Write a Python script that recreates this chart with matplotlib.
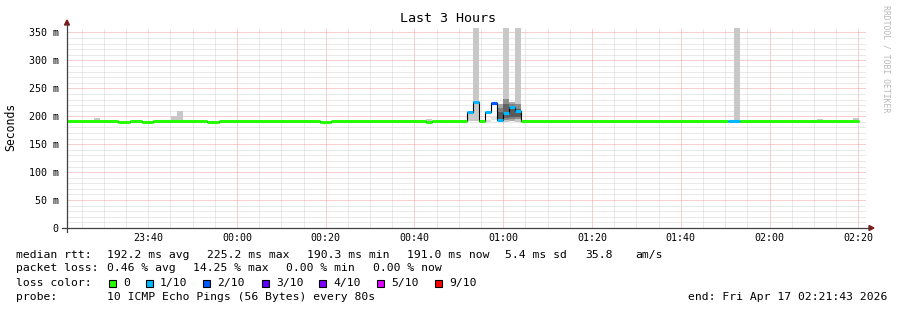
import matplotlib
matplotlib.use("Agg")
import matplotlib.pyplot as plt
from matplotlib.patches import Rectangle, Polygon
from matplotlib.lines import Line2D

# time axis in minutes relative to 00:00 (window 23:21:43 .. 02:21:43)
t_start = -38.28
t_end = 141.72

# median rtt runs (edges in minutes, value in ms, loss colour index)
med_edges = [-38.3, -26.8, -24.1, -21.4, -18.9, -6.8, -4.1, 18.7, 21.2, 42.6, 43.9,
             51.83, 53.18, 54.54, 55.89, 57.24, 58.59, 59.94, 61.30, 62.65, 64.0,
             110.65, 113.35, 140.17]
med_vals = [192, 190.5, 192, 190.5, 192, 190.5, 192, 190.5, 192, 190.5, 192,
            208, 226, 192, 208, 224, 193.5, 206, 216, 209, 192, 192, 192]
med_loss = [0, 0, 0, 0, 0, 0, 0, 0, 0, 0, 0,
            1, 1, 0, 1, 2, 1, 1, 1, 1, 0, 1, 0]

# smoke (ping spread) blocks: start, end, low, high, shade
smoke_t0 = [-32.2, -14.87, -13.52, 42.59, 51.83, 53.18, 55.89, 57.24,
            58.59, 58.59, 58.59, 59.94, 59.94, 59.94, 61.30, 61.30, 61.30,
            62.65, 62.65, 62.65, 112.0, 130.70, 138.82]
smoke_t1 = [-30.87, -13.52, -12.17, 43.94, 53.18, 54.54, 57.24, 58.59,
            59.94, 59.94, 59.94, 61.30, 61.30, 61.30, 62.65, 62.65, 62.65,
            64.0, 64.0, 64.0, 113.35, 132.06, 140.17]
smoke_lo = [192, 192, 192, 190, 192, 192, 190, 193,
            192, 194, 196, 190, 194, 197, 192, 195, 198,
            190, 195, 198, 190, 192, 192]
smoke_hi = [197, 201, 210, 195, 208, 400, 193, 200,
            222, 215, 207, 400, 231, 222, 226, 222, 214,
            400, 222, 213, 400, 195, 197]
smoke_shade = ['#c8c8c8', '#c8c8c8', '#c8c8c8', '#c8c8c8', '#c8c8c8', '#c8c8c8', '#dcdcdc', '#e4e4e4',
               '#a8a8a8', '#808080', '#5a5a5a', '#c8c8c8', '#8c8c8c', '#646464', '#a8a8a8', '#808080', '#5a5a5a',
               '#c8c8c8', '#8c8c8c', '#5a5a5a', '#c8c8c8', '#c8c8c8', '#c8c8c8']

loss_colors = ['#26ff00', '#00b8ff', '#0059ff', '#5e00ff', '#7e00ff', '#dd00ff', '#ff0000']
loss_labels = ['0', '1/10', '2/10', '3/10', '4/10', '5/10', '9/10']

x_ticks = [-20, 0, 20, 40, 60, 80, 100, 120, 140]
x_labels = ['23:40', '00:00', '00:20', '00:40', '01:00', '01:20', '01:40', '02:00', '02:20']
y_ticks = [0, 50, 100, 150, 200, 250, 300, 350]
y_labels = ['0', '50 m', '100 m', '150 m', '200 m', '250 m', '300 m', '350 m']

W, H = 897, 310
mono = 'DejaVu Sans Mono'

fig = plt.figure(figsize=(W / 100, H / 100), dpi=100)
fig.patch.set_facecolor('white')
ax = fig.add_axes([67 / W, 1 - 228 / H, (866 - 67) / W, 200 / H])
ax.set_xlim(t_start, t_end)
ax.set_ylim(0, 358)
for s in ax.spines.values():
    s.set_visible(False)

# grid
dot = (0, (1, 1))
for m in range(-35, 141, 5):
    if m >= 0 and m % 20 == 0:
        ax.axvline(m, color='#f2a0a0', lw=0.72, ls=dot, zorder=0)
    else:
        ax.axvline(m, color='#d4d4d4', lw=0.72, ls=dot, zorder=0)
for v in range(10, 360, 10):
    if v % 50 == 0:
        ax.axhline(v, color='#f2a0a0', lw=0.72, ls=dot, zorder=0)
    else:
        ax.axhline(v, color='#d4d4d4', lw=0.72, ls=dot, zorder=0)

# smoke
for t0, t1, lo, hi, c in zip(smoke_t0, smoke_t1, smoke_lo, smoke_hi, smoke_shade):
    ax.bar(t0, hi - lo, bottom=lo, width=t1 - t0, align='edge', color=c, linewidth=0, zorder=1)

# median line
ax.stairs(med_vals, med_edges, baseline=None, color='black', lw=0.8, zorder=2)
lc = ax.hlines(med_vals, med_edges[:-1], med_edges[1:],
               colors=[loss_colors[i] for i in med_loss], lw=2.2, zorder=3)
lc.set_capstyle('butt')

ax.set_xticks(x_ticks)
ax.set_xticklabels(x_labels, fontfamily=mono, fontsize=7.2)
ax.set_yticks(y_ticks)
ax.set_yticklabels(y_labels, fontfamily=mono, fontsize=7.2)
ax.tick_params(axis='both', length=0)
ax.tick_params(axis='y', pad=6)
ax.tick_params(axis='x', pad=3.5)


def fx(x):
    return x / W


def fy(y):
    return 1 - y / H


# axes with arrows
axis_c = '#404040'
arrow_c = '#7a1e1e'
fig.add_artist(Line2D([fx(67), fx(67)], [fy(232), fy(24)], color=axis_c, lw=0.9))
fig.add_artist(Line2D([fx(62), fx(869)], [fy(228), fy(228)], color=axis_c, lw=0.9))
fig.add_artist(Polygon([(fx(64.5), fy(25)), (fx(69.5), fy(25)), (fx(67), fy(20))],
                       closed=True, color=arrow_c, transform=fig.transFigure))
fig.add_artist(Polygon([(fx(869), fy(225.5)), (fx(869), fy(230.5)), (fx(874), fy(228))],
                       closed=True, color=arrow_c, transform=fig.transFigure))

fig.text(fx(448), fy(19), 'Last 3 Hours', ha='center', va='center', fontfamily=mono, fontsize=9.6)
fig.text(fx(11), fy(127), 'Seconds', ha='center', va='center', rotation=90,
         fontfamily=mono, fontsize=8.3)
fig.text(fx(886), fy(59), 'RRDTOOL / TOBI OETIKER', ha='center', va='center', rotation=270,
         fontfamily=mono, fontsize=5.9, color='#b8b8b8')

# legend text
fs = 8.2
rows = [
    (255, [(16, 'median rtt:'), (107, '192.2 ms avg'), (207, '225.2 ms max'),
           (307, '190.3 ms min'), (407, '191.0 ms now'), (505, '5.4 ms sd'),
           (585, '35.8'), (635, 'am/s')]),
    (268, [(16, 'packet loss:'), (107, '0.46 % avg'), (193, '14.25 % max'),
           (286, '0.00 % min'), (373, '0.00 % now')]),
    (283, [(16, 'loss color:')]),
    (297, [(16, 'probe:'), (107, '10 ICMP Echo Pings (56 Bytes) every 80s')]),
]
for y, items in rows:
    for x, s in items:
        fig.text(fx(x), fy(y), s, ha='left', va='center', fontfamily=mono, fontsize=fs)

sq_x = [109, 146, 203, 262, 319, 377, 435]
for x, c, lab in zip(sq_x, loss_colors, loss_labels):
    fig.add_artist(Rectangle((fx(x), fy(287)), 7 / W, 7.5 / H, transform=fig.transFigure,
                             facecolor=c, edgecolor='black', lw=0.8))
    fig.text(fx(x + 14), fy(283), lab, ha='left', va='center', fontfamily=mono, fontsize=fs)

fig.text(fx(887), fy(297), 'end: Fri Apr 17 02:21:43 2026', ha='right', va='center',
         fontfamily=mono, fontsize=fs)

fig.savefig('out.png', dpi=100, facecolor='white')
